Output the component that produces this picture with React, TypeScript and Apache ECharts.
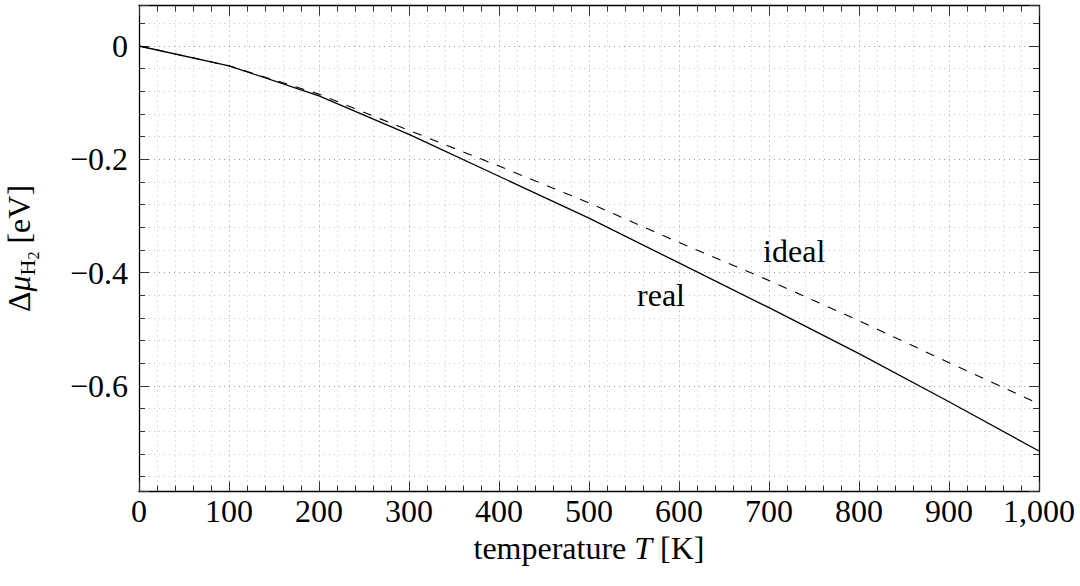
import { useEffect, useRef } from "react";
import * as echarts from "echarts";

// Temperature grid and chemical potential of H2 (eV)
const temperatureK = [0, 100, 200, 300, 400, 500, 600, 700, 800, 900, 1000];
const realGas = [0, -0.035, -0.088, -0.156, -0.23, -0.304, -0.383, -0.462, -0.543, -0.628, -0.715];
const idealGas = [0, -0.035, -0.085, -0.149, -0.212, -0.277, -0.347, -0.414, -0.485, -0.559, -0.632];

// Labelled y ticks
const yTickValues = [-0.6, -0.4, -0.2, 0];

// Annotation anchors in data space [T, Δμ]
const realNote: [number, number] = [580, -0.44];
const idealNote: [number, number] = [728, -0.362];

const SERIF = '"Liberation Serif", "DejaVu Serif", serif';
const FS = 32;

const fmtThousands = (v: number) => String(v).replace(/\B(?=(\d{3})+(?!\d))/g, ",");
const fmtY = (v: number) => {
  const hit = yTickValues.find((t) => Math.abs(t - v) < 1e-6);
  if (hit === undefined) return "";
  if (Math.abs(hit) < 1e-9) return "0";
  return (hit < 0 ? "\u2212" : "") + Math.abs(hit).toFixed(1);
};

export default function App() {
  const ref = useRef<HTMLDivElement>(null);

  useEffect(() => {
    const chart = echarts.init(ref.current!, null, { renderer: "svg" });
    const all = [...realGas, ...idealGas];
    const lo = Math.min(...all);
    const hi = Math.max(...all);
    const pad = 0.1 * (hi - lo);
    const yMin = lo - pad;
    const yMax = hi + pad;

    const frame = { show: true, onZero: false, lineStyle: { color: "#000", width: 1.3 } };
    const tick = { show: true, inside: true, length: 10, lineStyle: { color: "#333", width: 1 } };
    const minor = { show: true, splitNumber: 5, length: 6, lineStyle: { color: "#333", width: 1 } };
    const majorGrid = {
      show: true,
      showMinLine: false,
      showMaxLine: false,
      lineStyle: { type: [1, 4], color: "#999", width: 1 },
    };
    const minorGrid = { show: true, lineStyle: { type: [1, 4], color: "#c4c4c4", width: 1 } };
    const textBase = { color: "#000", fontFamily: SERIF, fontSize: FS };

    const noteLabel = (text: string) => ({
      show: true,
      position: "inside",
      formatter: text,
      ...textBase,
    });

    chart.setOption({
      animation: false,
      backgroundColor: "#fff",
      grid: {
        left: 139,
        top: 5.5,
        width: 900,
        height: 486,
        containLabel: false,
        outerBoundsMode: "none",
      },
      xAxis: [
        {
          type: "value",
          position: "bottom",
          min: 0,
          max: 1000,
          interval: 100,
          axisLine: frame,
          axisTick: tick,
          minorTick: minor,
          splitLine: majorGrid,
          minorSplitLine: minorGrid,
          axisLabel: { ...textBase, margin: 3, formatter: fmtThousands },
          name: "{a|temperature }{i|T}{a| [K]}",
          nameLocation: "middle",
          nameGap: 40,
          nameTextStyle: {
            ...textBase,
            rich: {
              a: { ...textBase },
              i: { ...textBase, fontStyle: "italic" },
            },
          },
        },
        {
          type: "value",
          position: "top",
          min: 0,
          max: 1000,
          interval: 100,
          axisLine: frame,
          axisTick: tick,
          minorTick: minor,
          splitLine: { show: false },
          axisLabel: { show: false },
        },
      ],
      yAxis: [
        {
          type: "value",
          position: "left",
          min: yMin,
          max: yMax,
          axisLine: frame,
          axisTick: tick,
          minorTick: minor,
          splitLine: majorGrid,
          minorSplitLine: minorGrid,
          axisLabel: { ...textBase, margin: 11, formatter: fmtY, showMinLabel: false, showMaxLabel: false },
          name: "{a|\u0394}{m|\u03bc}{h|H}{s|2}{a| [eV]}",
          nameLocation: "middle",
          nameRotate: 90,
          nameGap: 98,
          nameTextStyle: {
            ...textBase,
            rich: {
              a: { ...textBase },
              m: { ...textBase, fontStyle: "italic" },
              h: { ...textBase, fontSize: 22, padding: [17, 0, 0, 0] },
              s: { ...textBase, fontSize: 16, padding: [29, 0, 0, 0] },
            },
          },
        },
        {
          type: "value",
          position: "right",
          min: yMin,
          max: yMax,
          axisLine: frame,
          axisTick: tick,
          minorTick: minor,
          splitLine: { show: false },
          axisLabel: { show: false },
        },
      ],
      series: [
        {
          name: "real",
          type: "line",
          xAxisIndex: 0,
          yAxisIndex: 0,
          data: temperatureK.map((t, i) => [t, realGas[i]]),
          symbol: "none",
          lineStyle: { color: "#000", width: 1.3 },
          markPoint: {
            symbol: "circle",
            symbolSize: 0,
            data: [{ coord: realNote, label: noteLabel("real") }],
          },
        },
        {
          name: "ideal",
          type: "line",
          xAxisIndex: 0,
          yAxisIndex: 0,
          data: temperatureK.map((t, i) => [t, idealGas[i]]),
          symbol: "none",
          lineStyle: { color: "#000", width: 1.1, type: [9, 9] },
          markPoint: {
            symbol: "circle",
            symbolSize: 0,
            data: [{ coord: idealNote, label: noteLabel("ideal") }],
          },
        },
      ],
    });

    return () => chart.dispose();
  }, []);

  return (
    <div
      ref={ref}
      style={{ position: "fixed", left: 0, top: 0, width: 1080, height: 586, background: "#fff" }}
    />
  );
}
